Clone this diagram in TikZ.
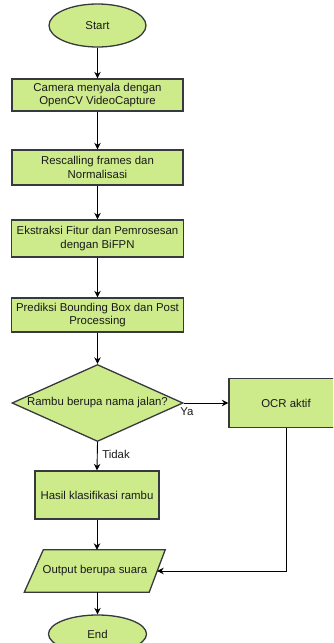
\documentclass[tikz,border=0pt]{standalone}
\usepackage{fontspec}
\setmainfont{Liberation Sans}
\usetikzlibrary{shapes.geometric,arrows.meta,backgrounds,calc}
\definecolor{boxfill}{HTML}{CDEB8B}
\definecolor{boxline}{HTML}{36393D}
\begin{document}
\begin{tikzpicture}[x=1pt,y=-1pt,
  txt/.style={font=\fontsize{11.4}{13.5}\selectfont, text=black!90},
  shp/.style={txt, draw=boxline, fill=boxfill, line width=1.3pt, inner sep=0pt, align=center},
  proc/.style={shp, rectangle},
  term/.style={shp, ellipse},
  dec/.style={shp, diamond, aspect=2.2},
  conn/.style={draw=black, line width=0.9pt, -{Stealth[length=6.5pt,width=6.5pt]}},
  lbl/.style={txt, inner sep=0pt}
]
\useasboundingbox (0,0) rectangle (333,643);
\clip (0,0) rectangle (333,643);
\node[term, minimum width=97, minimum height=43] (start) at (97.5,25.5) {Start};
\node[proc, minimum width=171, minimum height=32] (b1) at (97.5,95) {Camera menyala dengan\\OpenCV VideoCapture};
\node[proc, minimum width=171, minimum height=35] (b2) at (97.5,167.5) {Rescalling frames dan\\Normalisasi};
\node[proc, minimum width=172, minimum height=37] (b3) at (97.5,238.5) {Ekstraksi Fitur dan Pemrosesan\\dengan BiFPN};
\node[proc, minimum width=172, minimum height=34] (b4) at (97.5,315) {Prediksi Bounding Box dan Post\\Processing};
\node[dec, minimum width=171, minimum height=77] (d) at (97.5,403) {Rambu berupa nama jalan?};
\node[proc, minimum width=114, minimum height=49] (ocr) at (286,403) {OCR aktif};
\node[proc, minimum width=124, minimum height=48] (hasil) at (97,495) {Hasil klasifikasi rambu};
\node[txt, minimum width=122, minimum height=42, inner sep=0pt] (out) at (95,571) {Output berupa suara};
\begin{scope}[on background layer]
\draw[draw=boxline, fill=boxfill, line width=1.3pt, line join=miter]
  ($(out.south west)+(-9.5,0)$) -- ($(out.south east)+(-7,0)$) --
  ($(out.north east)+(9,0)$) -- ($(out.north west)+(9.5,0)$) -- cycle;
\end{scope}
\coordinate (outR) at ($(out.east)+(1,0)$);
\node[term, minimum width=98, minimum height=38] (end) at (97.5,634) {End};

\node[lbl] (ya) at (187,412) {Ya};
\node[lbl] (tidak) at (116,454) {Tidak};

\draw[conn] (start) -- (b1);
\draw[conn] (b1) -- (b2);
\draw[conn] (b2) -- (b3);
\draw[conn] (b3) -- (b4);
\draw[conn] (b4) -- (d);
\draw[conn] (d.east) -- (ocr.west);
\draw[conn] (d.south) -- (hasil.north);
\draw[conn] (hasil.south) -- (hasil.south |- out.north);
\draw[conn] (out.south -| end) -- (end.north);
\draw[conn] (ocr.south) |- (outR);
\end{tikzpicture}
\end{document}
